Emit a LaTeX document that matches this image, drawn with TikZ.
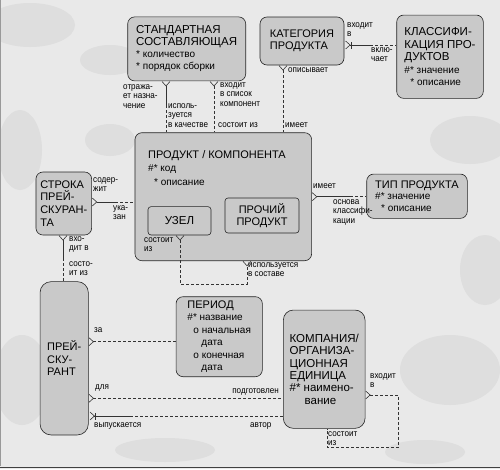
\documentclass[tikz,border=0pt]{standalone}
\usepackage{fontspec}
\setmainfont{Liberation Sans}
\newfontfamily\labfont[FakeStretch=0.9]{Liberation Sans}
\usetikzlibrary{arrows.meta}

\definecolor{boxgray}{gray}{0.79}
\definecolor{bggray}{gray}{0.915}
\definecolor{blobgray}{gray}{0.87}
\newcommand\att[1]{{\fontsize{10}{12}\selectfont #1}}

\begin{document}
\begin{tikzpicture}[x=1pt,y=-1pt,
	crow/.tip={Straight Barb[reversed,length=4.5pt,width=8pt,line width=0.6pt]},
	ent/.style={draw=black!85,fill=boxgray,rounded corners=7pt,line width=0.6pt,
		inner sep=0pt,align=left,font=\fontsize{11}{12.5}\selectfont},
	sub/.style={ent,rounded corners=3pt},
	lab/.style={inner sep=0pt,anchor=north west,align=left,
		font=\labfont\fontsize{9}{9.8}\selectfont},
	rel/.style={draw=black!80,line width=0.6pt},
	optl/.style={rel,dash pattern=on 3pt off 2pt}]
	\useasboundingbox (0,0) rectangle (500,469);
	\fill[bggray] (0,0) rectangle (500,469);
	% background spots
	\fill[blobgray] (30,25) ellipse [x radius=45,y radius=22];
	\fill[blobgray] (110,60) ellipse [x radius=30,y radius=15];
	\fill[blobgray] (20,150) ellipse [x radius=22,y radius=40];
	\fill[blobgray] (110,140) ellipse [x radius=25,y radius=16];
	\fill[blobgray] (470,140) ellipse [x radius=40,y radius=24];
	\fill[blobgray] (485,270) ellipse [x radius=25,y radius=35];
	\fill[blobgray] (450,370) ellipse [x radius=50,y radius=35];
	\fill[blobgray] (22,380) ellipse [x radius=28,y radius=45];
	\fill[blobgray] (165,450) ellipse [x radius=50,y radius=12];
	\fill[blobgray] (425,452) ellipse [x radius=40,y radius=12];
	\draw[black!40,line width=1pt] (0.5,0) -- (0.5,466);
	\draw[black!75,line width=1.5pt] (0,467.5) -- (500,467.5);

	% entities
	\node[ent,minimum width=118pt,minimum height=64pt,font=\fontsize{11.5}{12}\selectfont] (sc) at (186.7,48.9)
		{СТАНДАРТНАЯ\\СОСТАВЛЯЮЩАЯ\\\att{* количество}\\\att{* порядок сборки}};
	\node[ent,minimum width=84pt,minimum height=48pt] (cat) at (302,41) {КАТЕГОРИЯ\\ПРОДУКТА};
	\node[ent,minimum width=86.6pt,minimum height=83.3pt,font=\fontsize{11.5}{12.5}\selectfont] (cls) at (440,56.7)
		{КЛАССИФИ-\\КАЦИЯ ПРО-\\ДУКТОВ\\\att{\#* значение}\\\att{\hspace{6pt}* описание}};
	\node[ent,minimum width=176.7pt,minimum height=128pt] (prod) at (223.3,196.7) {};
	\node[inner sep=0pt,anchor=north west,align=left,font=\fontsize{11}{13.5}\selectfont] (prodt) at (148,150)
		{ПРОДУКТ / КОМПОНЕНТА\\\att{\#* код}\\\att{\hspace{6pt}* описание}};
	\node[sub,minimum width=63pt,minimum height=28.3pt,font=\fontsize{11.5}{12}\selectfont] (uzel) at (179.5,220.8) {УЗЕЛ};
	\node[sub,minimum width=74pt,minimum height=35pt,align=center] (proch) at (262,215.5) {ПРОЧИЙ\\ПРОДУКТ};
	\node[ent,minimum width=100.6pt,minimum height=44.3pt,font=\fontsize{11}{11.5}\selectfont] (tip) at (417,196.2)
		{ТИП ПРОДУКТА\\\att{\#* значение}\\\att{\hspace{6pt}* описание}};
	\node[ent,minimum width=55.7pt,minimum height=63pt,font=\fontsize{11}{12.7}\selectfont] (str) at (63.8,203.5)
		{СТРОКА\\ПРЕЙ-\\СКУРАН-\\ТА};
	\node[ent,rounded corners=11pt,minimum width=48.3pt,minimum height=153.3pt] (pr) at (64.2,358.3)
		{ПРЕЙ-\\СКУ-\\РАНТ};
	\node[ent,minimum width=86.3pt,minimum height=80pt,font=\fontsize{11}{12.5}\selectfont] (per) at (219.2,336.7)
		{ПЕРИОД\\\att{\#* название}\\\att{\hspace{6pt}o начальная}\\\att{\hspace{14pt}дата}\\\att{\hspace{6pt}o конечная}\\\att{\hspace{14pt}дата}};
	\node[ent,rounded corners=10pt,minimum width=81.7pt,minimum height=118.3pt,font=\fontsize{11.5}{12.3}\selectfont] (comp) at (324.2,369.2)
		{КОМПАНИЯ/\\ОРГАНИЗА-\\ЦИОННАЯ\\ЕДИНИЦА\\\#* наимено-\\\hspace{15pt}вание};

	% relationships
	\coordinate (ma) at (166,105);
	\coordinate (mb) at (214,107);
	\coordinate (mc) at (283,100);
	\coordinate (md) at (370,45);
	\coordinate (me) at (115,202);
	\coordinate (mf) at (63,258);
	\coordinate (g1) at (180,284);
	\coordinate (g2) at (247,284);
	\coordinate (mh) at (350,196.7);
	\coordinate (mi) at (130,341.7);
	\coordinate (mj) at (150,398.3);
	\coordinate (mk) at (130,416);
	\coordinate (l1) at (398.3,395);
	\coordinate (l2) at (398.3,447.5);
	\coordinate (l3) at (327,447.5);
	\draw[rel,crow-] (sc.south -| ma) -- (ma);
	\draw[optl] (ma) -- (prod.north -| ma);
	\draw[optl,crow-] (sc.south -| mb) -- (prod.north -| mb);
	\draw[optl,crow-] (cat.south -| mc) -- (prod.north -| mc);
	\draw[rel,{crow[sep=1pt]Bar[width=7pt]}-] (cat.east |- md) -- (md);
	\draw[optl] (md) -- (cls.west |- md);
	\draw[rel,crow-] (str.east |- me) -- (me);
	\draw[optl] (me) -- (prod.west |- me);
	\draw[rel,crow-] (str.south -| mf) -- (mf);
	\draw[optl] (mf) -- (pr.north -| mf);
	\draw[optl,crow-crow] (uzel.south -| g1) -- (g1) -- (g2) -- (prod.south -| g2);
	\draw[rel,crow-] (prod.east |- mh) -- (mh);
	\draw[optl] (mh) -- (tip.west |- mh);
	\draw[optl,crow-] (pr.east |- mi) -- (per.west |- mi);
	\draw[optl,crow-] (pr.east |- mj) -- (comp.west |- mj);
	\draw[rel,{crow[sep=1pt]Bar[width=7pt]}-] (pr.east |- mk) -- (mk);
	\draw[optl] (mk) -- (comp.west |- mk);
	\draw[optl,crow-] (comp.east |- l1) -- (l1) -- (l2) -- (l3) -- (comp.south -| l3);

	% labels
	\node[lab] (la1) at (123,84) {отража-\\ет назна-\\чение};
	\node[lab] (la2) at (168,103) {исполь-\\зуется\\в качестве};
	\node[lab] (lb1) at (220,82) {входит\\в список\\компонент};
	\node[lab] (lb2) at (218,122) {состоит из};
	\node[lab] (lc1) at (288,67) {описывает};
	\node[lab] (lc2) at (285,122) {имеет};
	\node[lab] (ld1) at (347,22) {входит\\в};
	\node[lab] (ld2) at (371,47) {вклю-\\чает};
	\node[lab] (le1) at (93,177) {содер-\\жит};
	\node[lab] (le2) at (113,205) {ука-\\зан};
	\node[lab] (lf1) at (69,236) {вхо-\\дит в};
	\node[lab] (lf2) at (69,261) {состо-\\ит из};
	\node[lab] (lg1) at (144,237) {состоит\\из};
	\node[lab] (lg2) at (248,262) {используется\\в составе};
	\node[lab] (lh1) at (313,183) {имеет};
	\node[lab] (lh2) at (333,199) {основа\\классифи-\\кации};
	\node[lab] (li1) at (94,327) {за};
	\node[lab] (lj1) at (95,385) {для};
	\node[lab,anchor=north east] (lj2) at (279,388) {подготовлен};
	\node[lab] (lk1) at (94,422) {выпускается};
	\node[lab] (lk2) at (250,422) {автор};
	\node[lab] (ll1) at (370,373) {входит\\в};
	\node[lab] (ll2) at (328,431) {состоит\\из};
\end{tikzpicture}
\end{document}
